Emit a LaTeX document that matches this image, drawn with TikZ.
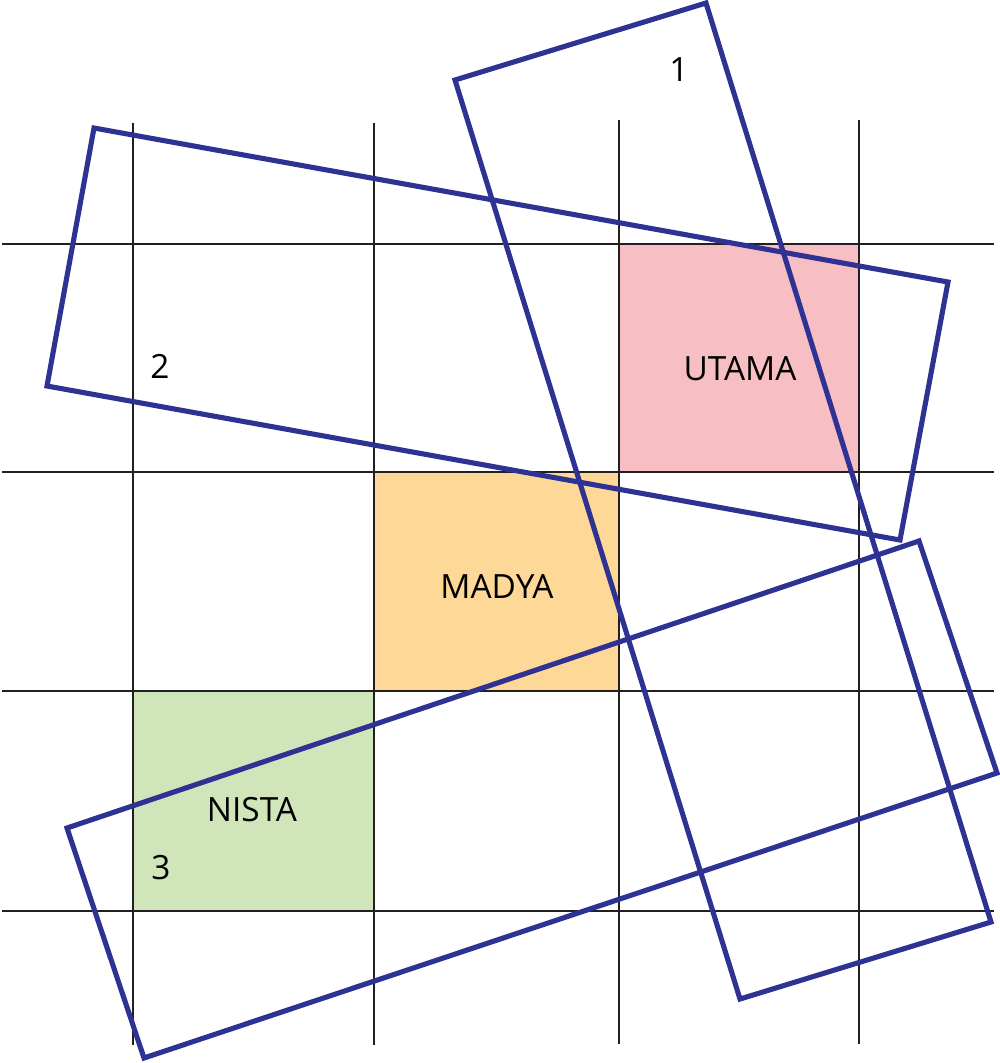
\documentclass[tikz,border=0pt]{standalone}
\usepackage{fontspec}
\setmainfont{Open Sans}
\usepackage{tikz}
\definecolor{utamapink}{RGB}{247,190,196}
\definecolor{madyaorange}{RGB}{254,216,150}
\definecolor{nistagreen}{RGB}{208,229,186}
\definecolor{frameblue}{RGB}{46,50,146}
\definecolor{gridgray}{RGB}{35,31,32}

\begin{document}
\begin{tikzpicture}[x=0.02cm, y=-0.02cm,
        gridline/.style={draw=gridgray, line width=1.1pt},
        frame/.style={draw=frameblue, line width=2.9pt},
        lbl/.style={font=\fontsize{19}{23}\selectfont, inner sep=0pt}]
        \useasboundingbox (0, 0) rectangle (1000, 1063);

        % zones
        \fill[utamapink] (619, 244) rectangle (859, 472);
        \fill[madyaorange] (374, 472) rectangle (619, 691);
        \fill[nistagreen] (133, 691) rectangle (374, 911);

        % grid
        \draw[gridline] (133, 123) -- (133, 1045);
        \draw[gridline] (374, 123) -- (374, 1045);
        \draw[gridline] (619, 120) -- (619, 1044);
        \draw[gridline] (859, 120) -- (859, 1044);
        \draw[gridline] (2, 244) -- (994, 244);
        \draw[gridline] (2, 472) -- (994, 472);
        \draw[gridline] (2, 691) -- (994, 691);
        \draw[gridline] (2, 911) -- (994, 911);

        % rotated frames
        \coordinate (A1) at (455, 80);
        \coordinate (B1) at (706, 3);
        \coordinate (C1) at (991, 922);
        \coordinate (D1) at (740, 999);
        \draw[frame] (A1) -- (B1) -- (C1) -- (D1) -- cycle;

        \coordinate (A2) at (94, 128);
        \coordinate (B2) at (948, 282);
        \coordinate (C2) at (900, 540);
        \coordinate (D2) at (47, 386);
        \draw[frame] (A2) -- (B2) -- (C2) -- (D2) -- cycle;

        \coordinate (A3) at (67, 828);
        \coordinate (B3) at (919, 541);
        \coordinate (C3) at (997, 773);
        \coordinate (D3) at (144, 1058);
        \draw[frame] (A3) -- (B3) -- (C3) -- (D3) -- cycle;

        \node[lbl] (utama) at (740, 369) {UTAMA};
        \node[lbl] (madya) at (497, 587) {MADYA};
        \node[lbl] (nista) at (252, 810) {NISTA};
        \node[lbl] (one) at (679, 70) {1};
        \node[lbl] (two) at (160, 366) {2};
        \node[lbl] (three) at (161, 868) {3};

    \end{tikzpicture}
\end{document}
